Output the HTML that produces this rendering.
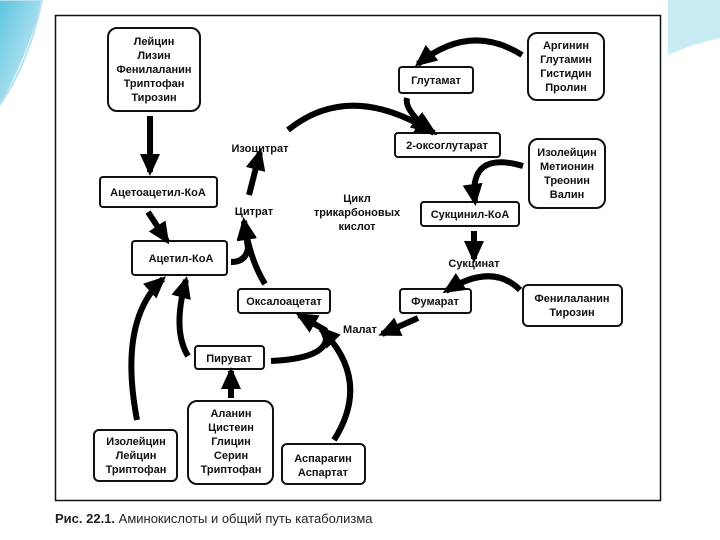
<!DOCTYPE html>
<html><head><meta charset="utf-8">
<style>
html,body{margin:0;padding:0;background:#fff;}
svg{display:block;}
text{font-family:"Liberation Sans",sans-serif;font-weight:bold;font-size:11px;fill:#111;text-anchor:middle;}
</style></head><body>
<svg width="720" height="540" viewBox="0 0 720 540" xmlns="http://www.w3.org/2000/svg">
<defs>
<marker id="h" markerUnits="userSpaceOnUse" markerWidth="24" markerHeight="24" refX="18" refY="10" orient="auto">
<path d="M0,0 L22,10 L0,20 Z" fill="#000"/>
</marker>
<linearGradient id="g1" x1="0" y1="0" x2="1" y2="1"><stop offset="0" stop-color="#5ec4e0"/><stop offset="1" stop-color="#dff3f8"/></linearGradient>
</defs>
<path d="M0,0 L42,0 Q30,50 0,105 Z" fill="url(#g1)"/>
<path d="M0,105 Q30,60 42,0 L0,0" fill="none" stroke="#b8e2ee" stroke-width="2"/>
<path d="M668,0 L720,0 L720,38 Q690,45 668,55 Z" fill="#c8ebf4"/>
<rect x="55.5" y="15.5" width="605" height="485" fill="#fff" stroke="#111" stroke-width="1.5"/>
<g fill="#fff" stroke="#111" stroke-width="2">
<rect x="108" y="28" width="92" height="83" rx="9"/>
<rect x="528" y="33" width="76" height="67" rx="9"/>
<rect x="399" y="67" width="74" height="26" rx="3"/>
<rect x="395" y="133" width="105" height="24" rx="3"/>
<rect x="529" y="139" width="76" height="69" rx="9"/>
<rect x="100" y="177" width="117" height="30" rx="3"/>
<rect x="421" y="202" width="98" height="24" rx="3"/>
<rect x="132" y="241" width="95" height="34" rx="3"/>
<rect x="238" y="289" width="92" height="24" rx="3"/>
<rect x="400" y="289" width="71" height="24" rx="3"/>
<rect x="523" y="285" width="99" height="41" rx="5"/>
<rect x="195" y="346" width="69" height="23" rx="3"/>
<rect x="188" y="401" width="85" height="83" rx="9"/>
<rect x="94" y="430" width="83" height="51" rx="5"/>
<rect x="282" y="444" width="83" height="40" rx="5"/>
</g>
<text x="154" y="45">Лейцин</text><text x="154" y="59">Лизин</text><text x="154" y="73">Фенилаланин</text><text x="154" y="87">Триптофан</text><text x="154" y="101">Тирозин</text>
<text x="566" y="49">Аргинин</text><text x="566" y="63">Глутамин</text><text x="566" y="77">Гистидин</text><text x="566" y="91">Пролин</text>
<text x="436" y="84">Глутамат</text>
<text x="447" y="149">2-оксоглутарат</text>
<text x="567" y="156">Изолейцин</text><text x="567" y="170">Метионин</text><text x="567" y="184">Треонин</text><text x="567" y="198">Валин</text>
<text x="158" y="196">Ацетоацетил-КоА</text>
<text x="470" y="218">Сукцинил-КоА</text>
<text x="181" y="262">Ацетил-КоА</text>
<text x="284" y="305">Оксалоацетат</text>
<text x="435" y="305">Фумарат</text>
<text x="572" y="302">Фенилаланин</text><text x="572" y="316">Тирозин</text>
<text x="229" y="362">Пируват</text>
<text x="231" y="417">Аланин</text><text x="231" y="431">Цистеин</text><text x="231" y="445">Глицин</text><text x="231" y="459">Серин</text><text x="231" y="473">Триптофан</text>
<text x="136" y="445">Изолейцин</text><text x="136" y="459">Лейцин</text><text x="136" y="473">Триптофан</text>
<text x="323" y="462">Аспарагин</text><text x="323" y="476">Аспартат</text>
<text x="260" y="152">Изоцитрат</text>
<text x="254" y="215">Цитрат</text>
<text x="357" y="202">Цикл</text><text x="357" y="216">трикарбоновых</text><text x="357" y="230">кислот</text>
<text x="474" y="267">Сукцинат</text>
<text x="360" y="333">Малат</text>
<g fill="none" stroke="#000" stroke-width="6" marker-end="url(#h)">
<path d="M150,116 L150,172"/>
<path d="M148,212 L167,241"/>
<path d="M522,55 Q470,22 418,64"/>
<path d="M407,98 Q404,110 430,131"/>
<path d="M288,130 Q350,80 434,133"/>
<path d="M249,195 L260,152"/>
<path d="M231,262 Q246,262 248,248 L244,221"/>
<path d="M265,284 Q250,260 244,222"/>
<path d="M523,166 Q468,150 475,202"/>
<path d="M474,231 L474,259"/>
<path d="M520,290 Q492,262 446,291"/>
<path d="M418,318 L382,334"/>
<path d="M271,361 Q335,358 325,330 L299,315"/>
<path d="M334,440 Q372,380 321,329"/>
<path d="M188,356 Q172,330 186,280"/>
<path d="M137,420 Q118,320 163,279"/>
<path d="M231,398 L231,371"/>
</g>
<text x="55" y="523" style="text-anchor:start;font-size:13px;font-weight:bold;fill:#222">Рис. 22.1.<tspan style="font-weight:normal"> Аминокислоты и общий путь катаболизма</tspan></text>
</svg>
</body></html>
